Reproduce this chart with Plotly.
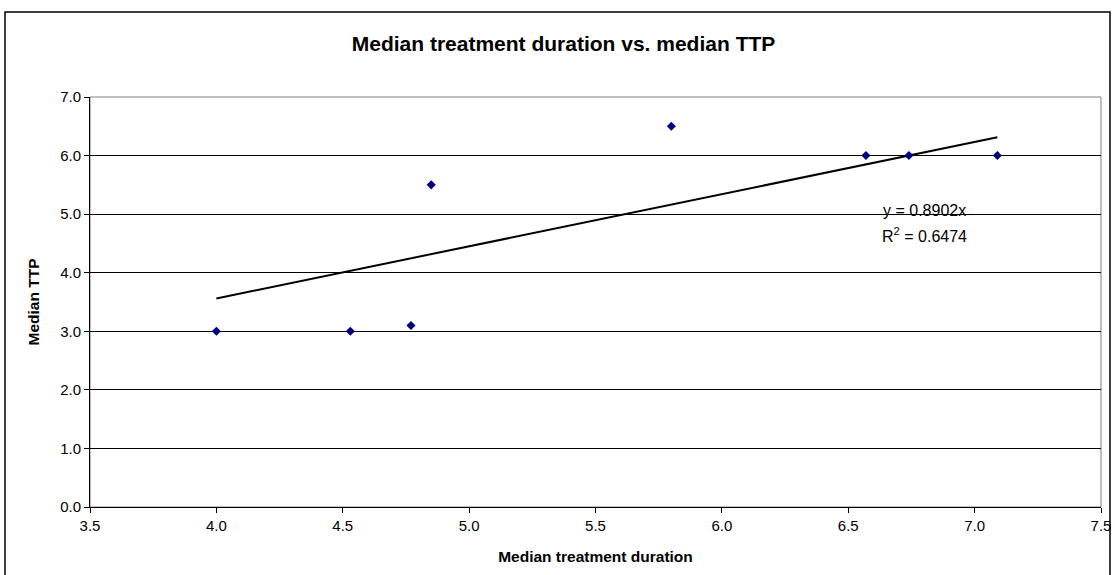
import plotly.graph_objects as go

# Data
treatment_duration = [4.00, 4.53, 4.77, 4.85, 5.80, 6.57, 6.74, 7.09]
median_ttp = [3.0, 3.0, 3.1, 5.5, 6.5, 6.0, 6.0, 6.0]
trend_slope = 0.8902
r_squared = 0.6474

x_ticks = [3.5, 4.0, 4.5, 5.0, 5.5, 6.0, 6.5, 7.0, 7.5]
y_ticks = [0.0, 1.0, 2.0, 3.0, 4.0, 5.0, 6.0, 7.0]

FONT = "Arial, Liberation Sans, sans-serif"

x_lo, x_hi = min(treatment_duration), max(treatment_duration)
trend_x = [x_lo, x_hi]
trend_y = [trend_slope * v for v in trend_x]

fig = go.Figure()
fig.add_trace(go.Scatter(
    x=trend_x, y=trend_y, mode="lines",
    line=dict(color="black", width=2), showlegend=False, hoverinfo="skip"))
fig.add_trace(go.Scatter(
    x=treatment_duration, y=median_ttp, mode="markers",
    marker=dict(symbol="diamond", size=7, color="#000080"),
    showlegend=False))

fig.update_layout(
    width=1115, height=575,
    margin=dict(l=90, r=14, t=97, b=68),
    paper_bgcolor="white", plot_bgcolor="white",
    font=dict(family=FONT, color="black", size=15),
    title=dict(text="<b>Median treatment duration vs. median TTP</b>",
               x=0.5054, xanchor="center", y=1 - 44 / 575, yanchor="middle",
               font=dict(family=FONT, size=21, color="black")),
    xaxis=dict(range=[3.5, 7.5], tickvals=x_ticks,
               ticktext=[f"{v:.1f}" for v in x_ticks],
               showgrid=False, zeroline=False, automargin=False,
               showline=True, linecolor="black", linewidth=1,
               ticks="outside", ticklen=5, tickcolor="black",
               tickfont=dict(size=15),
               title=dict(text="<b>Median treatment duration</b>", standoff=18,
                          font=dict(size=15.5))),
    yaxis=dict(range=[0, 7], tickvals=y_ticks,
               ticktext=[f"{v:.1f}" for v in y_ticks],
               showgrid=True, gridcolor="black", gridwidth=1,
               zeroline=False, automargin=False,
               showline=True, linecolor="black", linewidth=1,
               ticks="outside", ticklen=5, tickcolor="black",
               tickfont=dict(size=15),
               title=dict(text="<b>Median TTP</b>", standoff=16,
                          font=dict(size=15.5))),
)

# plot-area border (gray) on top/right
fig.add_shape(type="rect", xref="paper", yref="paper", x0=0, y0=0, x1=1, y1=1,
              line=dict(color="#808080", width=1), layer="below")
# outer chart frame
fig.add_shape(type="rect", xref="paper", yref="paper",
              x0=(5 - 90) / 1011, x1=(1110 - 90) / 1011,
              y0=-0.2, y1=(507 - 12) / 410,
              line=dict(color="black", width=1.5))

fig.add_annotation(x=6.80, y=5.07, xref="x", yref="y",
                   text=f"y = {trend_slope}x", showarrow=False,
                   font=dict(size=16, family=FONT))
fig.add_annotation(x=6.80, y=4.65, xref="x", yref="y",
                   text=f"R<sup>2</sup> = {r_squared}", showarrow=False,
                   font=dict(size=16, family=FONT))

fig.write_html("out.html", config={"displayModeBar": False},
               post_script="document.body.style.margin='0';")
